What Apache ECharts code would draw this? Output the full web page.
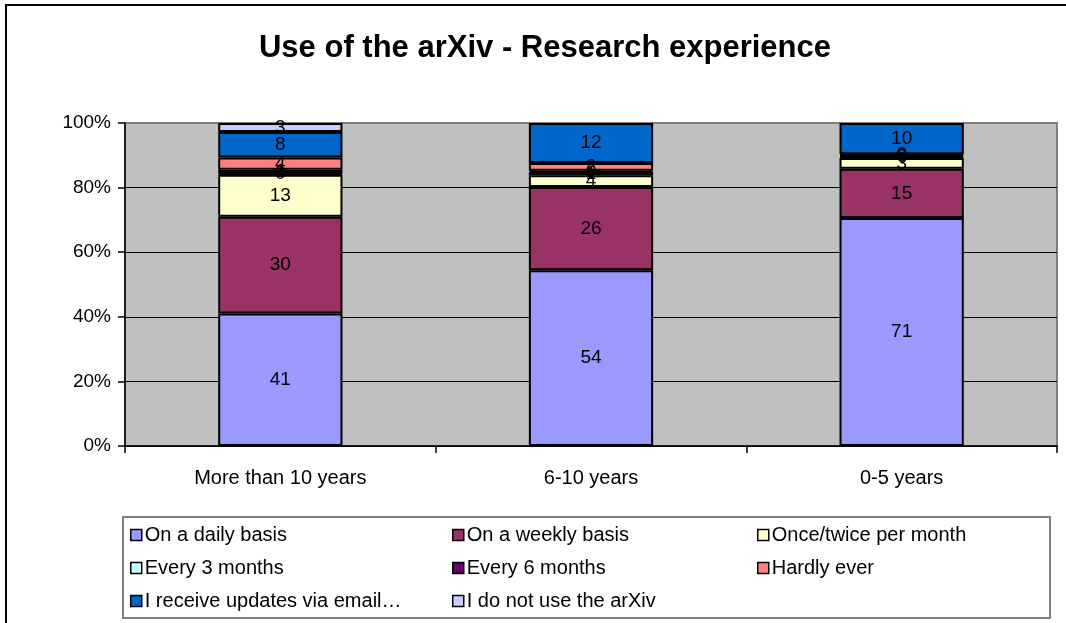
<!DOCTYPE html>
<html>
<head>
<meta charset="utf-8">
<title>Use of the arXiv - Research experience</title>
<script src="https://cdn.jsdelivr.net/npm/echarts@6/dist/echarts.min.js"></script>
<style>
  html, body { margin: 0; padding: 0; background: #fff; }
  #chart { width: 1066px; height: 623px; }
</style>
</head>
<body>
<div id="chart"></div>
<script>
// categories (research experience)
var categories = ['More than 10 years', '6-10 years', '0-5 years'];

// share of respondents (%) per answer, one value per category
var daily      = [41.0, 54.4, 70.6];
var weekly     = [30.0, 25.8, 15.2];
var monthly    = [13.0, 3.6, 3.4];
var every3     = [0.3, 1.0, 0.4];
var every6     = [1.2, 0.4, 0.3];
var hardly     = [3.8, 2.4, 0.4];
var email      = [7.9, 12.4, 9.7];
var notUse     = [2.8, null, null];

var yTicks = [0, 20, 40, 60, 80, 100];

var font = 'Arial, "Liberation Sans", sans-serif';

var seriesDefs = [
    {name: 'On a daily basis', data: daily, color: '#9999FF'},
    {name: 'On a weekly basis', data: weekly, color: '#993366'},
    {name: 'Once/twice per month', data: monthly, color: '#FFFFCC'},
    {name: 'Every 3 months', data: every3, color: '#CCFFFF'},
    {name: 'Every 6 months', data: every6, color: '#660066'},
    {name: 'Hardly ever', data: hardly, color: '#FF8080'},
    {name: 'I receive updates via email\u2026', data: email, color: '#0066CC'},
    {name: 'I do not use the arXiv', data: notUse, color: '#CCCCFF'}
];

var chart = echarts.init(document.getElementById('chart'), null, {renderer: 'canvas'});

function legendCol(left, names) {
    return {
        orient: 'vertical',
        left: left,
        top: 524,
        padding: 0,
        itemWidth: 11,
        itemHeight: 11,
        itemGap: 11,
        icon: 'rect',
        selectedMode: false,
        itemStyle: {borderColor: '#000', borderWidth: 1.5},
        textStyle: {fontFamily: font, fontSize: 20, color: '#000', lineHeight: 22, padding: [0, 0, 0, -2]},
        data: names
    };
}

var option = {
    animation: false,
    backgroundColor: '#fff',
    title: {
        text: 'Use of the arXiv - Research experience',
        left: 540,
        textAlign: 'center',
        top: 28,
        textStyle: {fontFamily: font, fontSize: 31, fontWeight: 'bold', color: '#000'}
    },
    legend: [
        legendCol(130, [seriesDefs[0].name, seriesDefs[3].name, seriesDefs[6].name]),
        legendCol(452, [seriesDefs[1].name, seriesDefs[4].name, seriesDefs[7].name]),
        legendCol(757, [seriesDefs[2].name, seriesDefs[5].name])
    ],
    grid: {
        left: 125,
        right: 9,
        top: 123,
        bottom: 177,
        show: true,
        backgroundColor: '#C0C0C0',
        borderColor: '#808080',
        borderWidth: 2
    },
    xAxis: {
        type: 'category',
        data: categories,
        axisLine: {lineStyle: {color: '#000', width: 1.5}},
        axisTick: {show: true, interval: 0, length: 7, lineStyle: {color: '#000', width: 1.5}},
        axisLabel: {fontFamily: font, fontSize: 20, color: '#000', margin: 22}
    },
    yAxis: {
        type: 'value',
        min: yTicks[0],
        max: yTicks[yTicks.length - 1],
        interval: yTicks[1] - yTicks[0],
        axisLine: {show: true, lineStyle: {color: '#000', width: 1.5}},
        axisTick: {show: true, length: 7, lineStyle: {color: '#000', width: 1.5}},
        axisLabel: {fontFamily: font, fontSize: 19, color: '#000', margin: 14, formatter: '{value}%'},
        splitLine: {show: true, showMaxLine: false, lineStyle: {color: '#000', width: 1}}
    },
    graphic: [
        {
            type: 'rect',
            shape: {x: 6, y: 5, width: 1100, height: 700},
            style: {fill: 'none', stroke: '#000', lineWidth: 2},
            silent: true
        },
        {
            type: 'rect',
            shape: {x: 123, y: 517, width: 927, height: 101},
            style: {fill: 'none', stroke: '#808080', lineWidth: 2},
            silent: true
        }
    ],
    series: seriesDefs.map(function (s) {
        return {
            name: s.name,
            type: 'bar',
            stack: 'total',
            barWidth: '40%',
            data: s.data,
            itemStyle: {color: s.color, borderColor: '#000', borderWidth: 2},
            label: {
                show: true,
                position: 'inside',
                fontFamily: font,
                fontSize: 19,
                color: '#000',
                formatter: function (p) { return Math.round(p.value); }
            }
        };
    })
};

chart.setOption(option);
</script>
</body>
</html>
